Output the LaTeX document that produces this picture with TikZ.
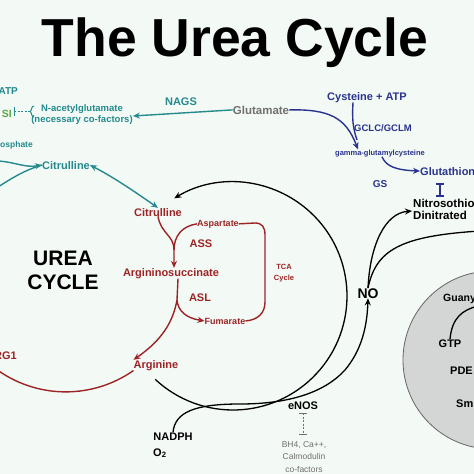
\documentclass[tikz,border=0pt]{standalone}
\usepackage{fontspec}
\setmainfont{Liberation Sans}
\usetikzlibrary{arrows.meta}
\definecolor{bgc}{RGB}{243,249,244}
\definecolor{tealc}{RGB}{36,138,142}
\definecolor{redc}{RGB}{156,36,38}
\definecolor{navyc}{RGB}{42,52,142}
\definecolor{grayt}{RGB}{112,112,112}
\definecolor{greenc}{RGB}{88,168,70}
\definecolor{cellc}{RGB}{212,213,213}
\begin{document}
\begin{tikzpicture}[x=1pt,y=-1pt,
  fs/.style={inner sep=0pt, font=\bfseries\fontsize{#1}{#1}\selectfont},
  fr/.style={inner sep=0pt, font=\fontsize{#1}{#1}\selectfont},
  arr/.style={-{Stealth[length=7pt,width=6pt]}},
  darr/.style={{Stealth[length=7pt,width=6pt]}-{Stealth[length=7pt,width=6pt]}},
  blk/.style={line width=1.3pt, black},
  tl/.style={line width=1.4pt, tealc},
  rd/.style={line width=1.4pt, redc},
  nv/.style={line width=1.4pt, navyc}]
\useasboundingbox (0,0) rectangle (474,474);
\clip (0,0) rectangle (474,474);
\fill[bgc] (0,0) rectangle (474,474);

% gray cell
\filldraw[fill=cellc, draw=gray!80!black, line width=0.8pt] (492,360) circle (89);

% title
\node[fs=53.5, anchor=base] (title) at (235,56) {The Urea Cycle};

% teal region
\node[fs=10, anchor=base east, text=tealc] (atp) at (18,94) {ATP};
\node[fs=10.5, anchor=base east, text=greenc] (si) at (12,117) {SI};
\node[fs=9.5, text=tealc, align=center, font=\bfseries\fontsize{9.5}{11}\selectfont] (nag) at (82,115) {N-acetylglutamate\\(necessary co-factors)};
\node[fs=11, anchor=base, text=tealc] (nags) at (181,105) {NAGS};
\node[fs=11.5, anchor=base, text=grayt] (glu) at (261,114) {Glutamate};
\node[fs=8.5, anchor=base east, text=tealc] (phos) at (33,147) {osphate};
\node[fs=11, anchor=base, text=tealc] (citt) at (66,169) {Citrulline};

\draw[tealc, line width=1pt] (14,107) -- (14,116);
\draw[tealc, line width=1pt, dashed, dash pattern=on 2pt off 1.5pt] (14,111.5) -- (30,111.5);
\draw[tealc, line width=1pt] (34,106) .. controls (31,106) and (32,111) .. (30,111.5) .. controls (32,112) and (31,117) .. (34,117);

\draw[tl, arr] (glu.west) -- (nag.east |- 0,116);
\coordinate (l1) at (-2,161);
\coordinate (l2) at (-2,187);
\draw[tl, arr] (l1) .. controls (15,162) and (25,168) .. (citt.west);
\draw[tl] (l2) .. controls (12,178) and (25,170) .. (citt.west);

% red urea cycle
\node[fs=11, anchor=base, text=redc] (citr) at (158,216) {Citrulline};
\node[fs=9, anchor=base, text=redc] (asp) at (218,226) {Aspartate};
\node[fs=11, anchor=base, text=redc] (ass) at (201,247) {ASS};
\node[fs=11, anchor=base, text=redc] (agsc) at (171,276) {Argininosuccinate};
\node[fs=7.5, text=redc, align=center, font=\bfseries\fontsize{7.5}{11}\selectfont] (tca) at (284,273) {TCA\\Cycle};
\node[fs=11, anchor=base, text=redc] (asl) at (200,301) {ASL};
\node[fs=9, anchor=base, text=redc] (fum) at (225,324) {Fumarate};
\node[fs=11, anchor=base, text=redc] (arg) at (156,368) {Arginine};
\node[fs=11, anchor=base east, text=redc] (rg1) at (17,359) {RG1};
\node[fs=21, align=center, font=\bfseries\fontsize{21}{24}\selectfont] (urea) at (63,270) {UREA\\CYCLE};

\draw[tl, darr] (citt.east) .. controls (115,178) and (135,192) .. (citr.north);

\draw[rd] (citr.south) .. controls (161,234) and (174,235) .. (174,250);
\draw[rd, arr] (asp.west) .. controls (182,226) and (174,236) .. (174,250) -- (agsc.north -| 174,0);
\draw[rd] (asp.east) -- (255,223) .. controls (262,223) and (265,227) .. (265,235) -- (265,302) .. controls (265,313) and (258,320) .. (fum.east);
\coordinate (sp) at (177,300);
\draw[rd] (agsc.south -| 178,0) -- (sp);
\draw[rd, arr] (sp) .. controls (178,311) and (186,318) .. (fum.west);
\draw[rd, arr] (sp) .. controls (173,322) and (162,340) .. (arg.north west);
\draw[rd] (arg.south west) arc[start angle=55, end angle=150, radius=118];

% blue glutathione
\node[fs=11, anchor=base, text=navyc] (cys) at (367,100) {Cysteine + ATP};
\node[fs=9.5, anchor=base, text=navyc] (gcl) at (383,131) {GCLC/GCLM};
\node[fs=7.5, anchor=base, text=navyc] (ggc) at (380,155) {gamma-glutamylcysteine};
\node[fs=11, anchor=base west, text=navyc] (gsh) at (420,175) {Glutathione};
\node[fs=10, anchor=base, text=navyc] (gs) at (380,187) {GS};
\draw[nv, arr] (glu.east) .. controls (330,109) and (346,118) .. (ggc.north -| 358,0);
\draw[nv] (cys.south -| 353,0) .. controls (352,120) and (353,128) .. (357,140);
\draw[nv, arr] (ggc.south -| 382,0) .. controls (386,166) and (395,170) .. (gsh.west);
\draw[navyc, line width=1.3pt] (440,184) -- (440,196) (436,184) -- (444,184) (436,196) -- (444,196);

% NO and right side
\node[fs=11.5, anchor=base west] (nit) at (413,207) {Nitrosothiols};
\node[fs=11.5, anchor=base west] (din) at (413,219) {Dinitrated};
\node[fs=14, anchor=base] (no) at (368,298) {NO};
\node[fs=10.5, anchor=base west] (guan) at (443,301) {Guany};
\node[fs=11, anchor=base] (gtp) at (450,347) {GTP};
\node[fs=11, anchor=base west] (pde) at (450,374) {PDE};
\node[fs=11, anchor=base west] (sm) at (456,407) {Sm};
\coordinate (redge) at (480,231);
\coordinate (gedge) at (478,306);
\draw[blk, arr] (no.north) .. controls (370,245) and (385,213) .. (412,211);
\draw[blk] (no.north) .. controls (376,250) and (400,236) .. (redge);
\draw[blk] (gtp.north) .. controls (452,318) and (462,310) .. (gedge);

% eNOS
\node[fs=11, anchor=base] (enos) at (303,409) {eNOS};
\node[fr=8.5, text=grayt, align=center, font=\fontsize{8.5}{12.5}\selectfont] (cof) at (304,457) {BH4, Ca++,\\Calmodulin\\co-factors};
\draw[grayt, line width=0.8pt, dashed, dash pattern=on 2pt off 1.5pt] (303,413) -- (303,434);
\draw[grayt, line width=0.8pt] (299,413) -- (307,413) (299,434) -- (307,434);
\node[fs=11, anchor=base] (nadph) at (173,440) {NADPH};
\node[fs=11, anchor=base west] (o2) at (153,456) {O\textsubscript{2}};

% black cycle
\coordinate (cc) at (233,296);
\draw[blk, arr] ([shift={(133:114)}]cc) arc[start angle=133, end angle=-121, radius=114];
\draw[blk, arr] (nadph.north) .. controls (175,412) and (195,404) .. (240,404) .. controls (290,404) and (325,392) .. (345,370) .. controls (360,352) and (367,330) .. (no.south);
\end{tikzpicture}
\end{document}
